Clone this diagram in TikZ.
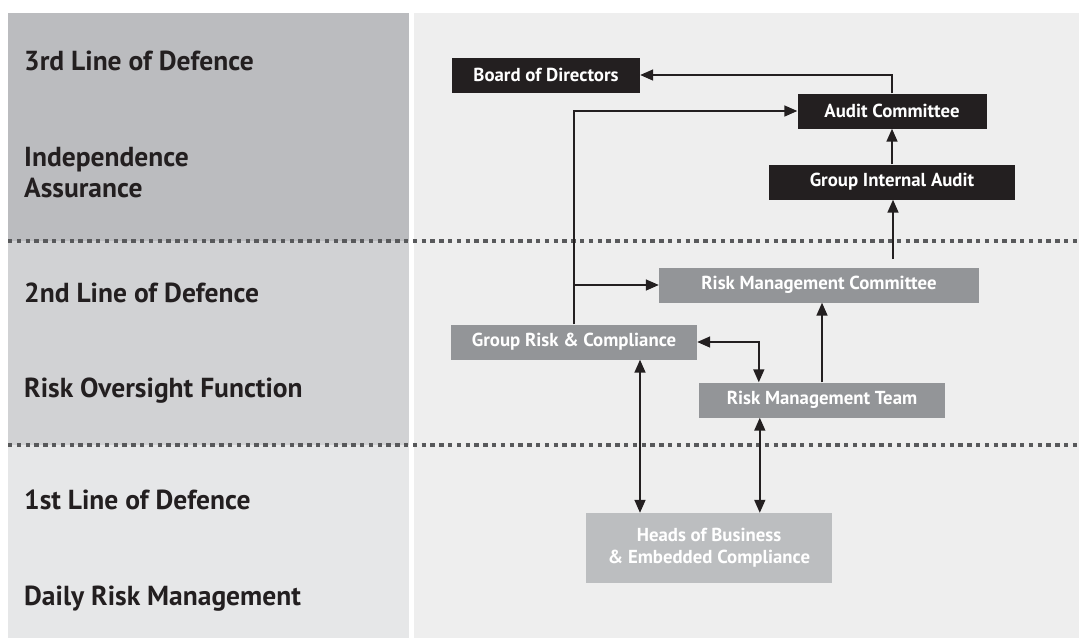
\documentclass[tikz,border=0pt]{standalone}
\usepackage{fontspec}
\setmainfont{PT Sans}
\usepackage{tikz}
\usetikzlibrary{arrows.meta}

\definecolor{inkblack}{HTML}{231F20}
\definecolor{midgrey}{HTML}{939598}
\definecolor{lightgrey}{HTML}{BCBEC0}
\definecolor{bandtop}{HTML}{BBBCBF}
\definecolor{bandmid}{HTML}{D1D2D4}
\definecolor{bandlow}{HTML}{E6E7E8}
\definecolor{panel}{HTML}{EEEEEE}
\definecolor{dotline}{HTML}{58595B}

\begin{document}
\begin{tikzpicture}[x=1pt,y=-1pt,
    orgbox/.style={inner sep=0pt, minimum height=35pt, text=white,
        font=\fontsize{18.8}{22}\selectfont\bfseries},
    blackbox/.style={orgbox, fill=inkblack},
    greybox/.style={orgbox, fill=midgrey},
    palebox/.style={orgbox, fill=lightgrey, align=center},
    lineof/.style={anchor=base west, inner sep=0pt, text=inkblack,
        font=\fontsize{27.5}{31}\selectfont\bfseries},
    arr/.style={draw=inkblack, line width=1.6pt, -{Triangle[length=13pt,width=11pt]}},
    dbl/.style={draw=inkblack, line width=1.6pt, {Triangle[length=13pt,width=11pt]}-{Triangle[length=13pt,width=11pt]}},
    divider/.style={draw=dotline, line width=4pt, dash pattern=on 4.4pt off 4.4pt}]
        \useasboundingbox (0, 0) rectangle (1079, 638);
        \fill[white] (0, 0) rectangle (1079, 638);
        % bands on the left, panel on the right
        \fill[bandtop] (8, 13) rectangle (409, 241);
        \fill[bandmid] (8, 241) rectangle (409, 445);
        \fill[bandlow] (8, 445) rectangle (409, 638);
        \fill[panel] (414, 13) rectangle (1079, 638);
        \draw[divider] (8, 241) -- (1079, 241);
        \draw[divider] (8, 445) -- (1079, 445);

        \node[lineof] (third)  at (24,  70) {3rd Line of Defence};
        \node[lineof] (indep)  at (24, 166) {Independence};
        \node[lineof] (assur)  at (24, 197) {Assurance};
        \node[lineof] (second) at (24, 302) {2nd Line of Defence};
        \node[lineof] (overs)  at (24, 397) {Risk Oversight Function};
        \node[lineof] (first)  at (24, 509) {1st Line of Defence};
        \node[lineof] (daily)  at (24, 605) {Daily Risk Management};

        % the boxes
        \node[blackbox, minimum width=188pt] (BoD) at (546,  75) {Board of Directors};
        \node[blackbox, minimum width=189pt] (AC)  at (892, 111) {Audit Committee};
        \node[blackbox, minimum width=246pt] (GIA) at (892, 182) {Group Internal Audit};
        \node[greybox,  minimum width=320pt] (RMC) at (819, 285) {Risk Management Committee};
        \node[greybox,  minimum width=246pt] (GRC) at (574, 342) {Group Risk \& Compliance};
        \node[greybox,  minimum width=246pt] (RMT) at (822, 400) {Risk Management Team};
        \node[palebox,  minimum width=246pt, minimum height=70pt] (HoB) at (709, 548)
            {Heads of Business\\\& Embedded Compliance};

        % reporting lines
        \coordinate (rmcup) at (893, 259);
        \draw[arr] (AC.north) |- (BoD.east);
        \draw[arr] (GIA.north) -- (AC.south);
        \draw[arr] (rmcup) -- (rmcup |- GIA.south);
        \draw[arr] (GRC.north) |- (AC.west);
        \draw[arr] (GRC.north |- RMC.west) -- (RMC.west);
        \draw[arr] (RMT.north) -- (RMT.north |- RMC.south);
        \draw[dbl] (GRC.east) -| ([xshift=60pt]RMT.north west);
        \draw[dbl] ([xshift=66pt]GRC.south) -- ([xshift=66pt]GRC.south |- HoB.north);
        \draw[dbl] ([xshift=61pt]RMT.south west) -- ([xshift=61pt]RMT.south west |- HoB.north);
    \end{tikzpicture}
\end{document}
